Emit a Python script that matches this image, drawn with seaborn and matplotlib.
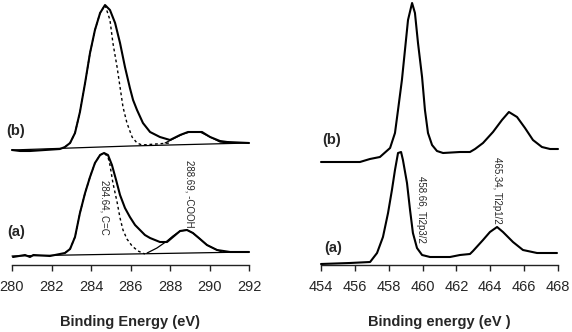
import numpy as np
import pandas as pd
import matplotlib
matplotlib.use("Agg")
import matplotlib.pyplot as plt
import seaborn as sns

# ---------------- data ----------------
# C1s panel, spectrum (a)
c_a_env_ev = [280.05, 280.66, 280.91, 281.08, 281.92, 282.68, 282.94, 283.19, 283.44, 283.70, 283.95,
              284.20, 284.46, 284.66, 284.86, 285.06, 285.27, 285.47, 285.72, 285.97, 286.23,
              286.48, 286.73, 286.99, 287.49, 287.85, 288.15, 288.51, 288.86, 289.16, 289.52,
              289.87, 290.38, 291.04, 292.00]
c_a_env_i = [8, 10, 8, 10, 9, 12, 16, 28, 52, 72, 88,
             102, 110, 112, 110, 100, 85, 70, 57, 48, 40,
             35, 30, 27, 23, 23, 28, 34, 35, 32, 26,
             20, 15, 13, 13]
c_a_c1_ev = [282.68, 282.94, 283.19, 283.44, 283.70, 283.95, 284.20, 284.46, 284.66, 284.86, 284.96,
             285.11, 285.32, 285.47, 285.62, 285.82, 286.08, 286.38, 286.73]
c_a_c1_i = [12, 16, 28, 52, 72, 88, 102, 110, 112, 108, 100,
            82, 63, 47, 35, 26, 19, 14, 11]
c_a_c2_ev = [286.84, 287.34, 287.85, 288.15, 288.51, 288.86, 289.16, 289.52, 289.87, 290.28, 290.63]
c_a_c2_i = [12, 17, 24, 29, 34, 35, 32, 26, 20, 16, 13]
c_a_base_ev = [280.0, 286.0, 292.0]
c_a_base_i = [9, 11, 13]

# C1s panel, spectrum (b)
c_b_env_ev = [280.00, 280.41, 280.91, 281.67, 282.43, 282.68, 282.94, 283.19, 283.44, 283.70, 283.95,
              284.20, 284.46, 284.71, 284.96, 285.22, 285.47, 285.72, 285.97, 286.13, 286.33,
              286.63, 286.99, 287.49, 288.00, 288.51, 288.91, 289.62, 290.03, 290.53, 290.89, 292.00]
c_b_env_i = [10, 9, 9, 10, 11, 13, 17, 27, 48, 77, 107,
             130, 147, 155, 150, 137, 117, 93, 72, 60, 50,
             37, 28, 23, 20, 25, 28, 28, 23, 19, 18, 17]
c_b_c1_ev = [282.68, 282.94, 283.19, 283.44, 283.70, 283.95, 284.20, 284.46, 284.71, 284.96, 285.11,
             285.32, 285.47, 285.62, 285.82, 286.08, 286.33, 286.58, 288.00]
c_b_c1_i = [13, 17, 27, 48, 77, 107, 130, 147, 155, 140, 117,
            93, 73, 53, 37, 23, 17, 15, 17]
c_b_c2_ev = [287.75, 288.25, 288.66, 289.01, 289.52, 290.03, 290.53, 291.04]
c_b_c2_i = [17, 22, 26, 28, 28, 23, 18, 17]
c_b_base_ev = [280.0, 286.0, 292.0]
c_b_base_i = [10, 14, 17]

# Ti2p panel, spectrum (a)
t_a_ev = [454.0, 455.7, 456.9, 457.31, 457.66, 457.96, 458.19, 458.37, 458.55, 458.73, 458.84,
          459.08, 459.26, 459.43, 459.67, 459.97, 460.44, 461.62, 462.21, 462.80, 462.98,
          463.57, 463.98, 464.40, 464.75, 465.34, 465.93, 466.76, 467.94]
t_a_i = [1, 2, 3, 12, 28, 52, 75, 95, 112, 113, 105,
         82, 55, 32, 17, 10, 8, 8, 10, 11, 14,
         25, 33, 38, 33, 23, 15, 12, 12]

# Ti2p panel, spectrum (b)
t_b_ev = [454.0, 456.3, 456.89, 457.48, 458.08, 458.37, 458.55, 458.78, 458.96, 459.14, 459.38,
          459.55, 459.73, 459.97, 460.14, 460.32, 460.56, 460.85, 461.21, 462.21, 462.80,
          463.10, 463.57, 464.16, 464.69, 465.10, 465.58, 466.05, 466.52, 467.05, 467.53, 468.0]
t_b_i = [-2, -2, 1, 3, 12, 27, 50, 80, 110, 140, 157,
         147, 117, 83, 50, 27, 15, 9, 7, 8, 8,
         11, 17, 28, 40, 48, 43, 32, 20, 13, 11, 11]

c_ticks = [280, 282, 284, 286, 288, 290, 292]
t_ticks = [454, 456, 458, 460, 462, 464, 466, 468]
peak_labels_c = ["284.64, C=C", "288.69, -COOH"]
peak_labels_t = ["458.66, Ti2p3/2", "465.34, Ti2p1/2"]

# ---------------- style ----------------
sns.set_style("white")
plt.rcParams['font.family'] = ['Liberation Sans', 'DejaVu Sans']

W, H = 572, 332
fig = plt.figure(figsize=(W / 100, H / 100), dpi=100)
OFFSET_B = 105

ax1 = fig.add_axes([12 / W, 1 - 265 / H, 237 / W, 265 / H])
ax2 = fig.add_axes([321 / W, 1 - 265 / H, 237 / W, 265 / H])


def curve(ax, x, y, off=0, lw=1.4, ls='-'):
    df = pd.DataFrame({'x': x, 'y': np.asarray(y, float) + off})
    sns.lineplot(data=df, x='x', y='y', ax=ax, color='black', lw=lw,
                 estimator=None, sort=False, linestyle=ls)
    for line in ax.lines:
        line.set_clip_on(False)
        line.set_solid_joinstyle('round')


# Left panel
curve(ax1, c_a_base_ev, c_a_base_i, lw=0.9)
curve(ax1, c_a_c2_ev, c_a_c2_i, lw=0.9)
curve(ax1, c_a_c1_ev, c_a_c1_i, lw=1.0, ls=(0, (2, 2)))
curve(ax1, c_a_env_ev, c_a_env_i, lw=1.5)
curve(ax1, c_b_base_ev, c_b_base_i, off=OFFSET_B, lw=0.9)
curve(ax1, c_b_c2_ev, c_b_c2_i, off=OFFSET_B, lw=0.9)
curve(ax1, c_b_c1_ev, c_b_c1_i, off=OFFSET_B, lw=1.0, ls=(0, (2, 2)))
curve(ax1, c_b_env_ev, c_b_env_i, off=OFFSET_B, lw=1.5)

# Right panel
curve(ax2, t_a_ev, t_a_i, lw=1.5)
curve(ax2, t_b_ev, t_b_i, off=OFFSET_B, lw=1.5)

for ax, ticks, lab in [(ax1, c_ticks, "Binding Energy (eV)"),
                       (ax2, t_ticks, "Binding energy (eV )")]:
    ax.set_xlim(ticks[0], ticks[-1])
    ax.set_ylim(0, 265)
    ax.set_xticks(ticks)
    ax.set_xticklabels([str(t) for t in ticks])
    ax.set_yticks([])
    ax.set_ylabel("")
    for s in ['top', 'right', 'left']:
        ax.spines[s].set_visible(False)
    ax.spines['bottom'].set_color('#222222')
    ax.spines['bottom'].set_linewidth(1.0)
    ax.tick_params(axis='x', direction='out', length=4, width=1.0, color='#222222',
                   labelsize=10.5, pad=7, bottom=True)
    ax.set_xlabel(lab, fontsize=10.5, fontweight='bold', labelpad=15)
    ax.patch.set_alpha(0)

# peak annotations
ax1.text(284.66, 58, peak_labels_c[0], rotation=270, fontsize=7, ha='center', va='center')
ax1.text(289.01, 71, peak_labels_c[1], rotation=270, fontsize=7, ha='center', va='center')
ax2.text(459.91, 56, peak_labels_t[0], rotation=270, fontsize=7, ha='center', va='center')
ax2.text(464.40, 75, peak_labels_t[1], rotation=270, fontsize=7, ha='center', va='center')

# trace labels
for (px, py, t) in [(16, 131, "(b)"), (16, 232, "(a)"), (332, 140, "(b)"), (333, 248, "(a)")]:
    fig.text(px / W, 1 - py / H, t, fontsize=10.5, fontweight='bold', ha='center', va='center')

fig.savefig("out.png", dpi=100)
